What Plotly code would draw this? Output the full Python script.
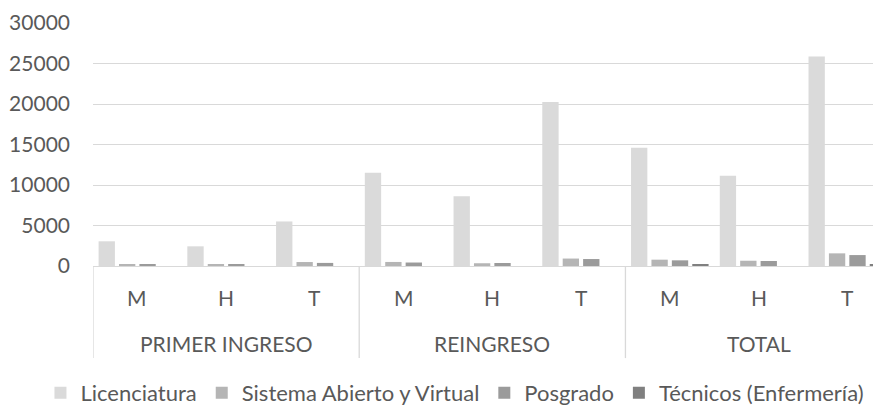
import plotly.graph_objects as go

# Datos (estimados)
grupos = ['PRIMER INGRESO', 'REINGRESO', 'TOTAL']
sexos = ['M', 'H', 'T']

licenciatura = [3050, 2430, 5500, 11500, 8600, 20250, 14600, 11150, 25850]
abierto_virtual = [220, 250, 490, 500, 340, 920, 780, 650, 1560]
posgrado = [210, 130, 380, 430, 370, 860, 700, 620, 1350]
tecnicos = [0, 0, 0, 0, 0, 0, 130, 0, 130]

series = [
    ('Licenciatura', licenciatura, '#dadada'),
    ('Sistema Abierto y Virtual', abierto_virtual, '#b5b5b5'),
    ('Posgrado', posgrado, '#9b9b9b'),
    ('Técnicos (Enfermería)', tecnicos, '#808080'),
]

fuente = 'Lato'
gris_texto = '#595959'
gris_linea = '#d9d9d9'
tam = 21

x_pos = list(range(len(grupos) * len(sexos)))

fig = go.Figure()
for nombre, valores, color in series:
    fig.add_trace(go.Bar(x=x_pos, y=valores, name=nombre, marker=dict(color=color, line=dict(width=0))))

# etiquetas del eje x (dos niveles) y separadores de grupos
anotaciones = []
for i, x in enumerate(x_pos):
    anotaciones.append(dict(x=x, y=0, xref='x', yref='paper', text=sexos[i % 3], showarrow=False,
                            yanchor='middle', yshift=-31, font=dict(size=tam, color=gris_texto, family=fuente)))
formas = []
for g, nombre in enumerate(grupos):
    anotaciones.append(dict(x=g * 3 + 1, y=0, xref='x', yref='paper', text=nombre, showarrow=False,
                            yanchor='middle', yshift=-77, font=dict(size=tam, color=gris_texto, family=fuente)))
    formas.append(dict(type='line', xref='x', yref='paper', x0=g * 3 - 0.5, x1=g * 3 - 0.5, y0=0, y1=-0.379,
                       line=dict(color=gris_linea, width=1.3)))

fig.update_layout(
    width=881, height=406,
    margin=dict(l=85, r=0, t=15, b=148),
    paper_bgcolor='white', plot_bgcolor='white',
    barmode='group', bargap=0.08, bargroupgap=0.2,
    font=dict(family=fuente, size=tam, color=gris_texto),
    xaxis=dict(range=[-0.5, 8.47], showticklabels=False, showgrid=False, zeroline=False,
               showline=True, linecolor=gris_linea, linewidth=1.3, ticks=''),
    yaxis=dict(range=[0, 30000], dtick=5000, tickformat='d', showgrid=True, gridcolor=gris_linea,
               gridwidth=1.3, zeroline=False, showline=False, ticks='', ticklabelstandoff=22,
               tickfont=dict(size=tam, color=gris_texto, family=fuente)),
    legend=dict(orientation='h', x=-0.066, xanchor='left', y=-0.525, yanchor='middle',
                font=dict(size=22, color=gris_texto, family=fuente), itemwidth=30),
    annotations=anotaciones,
    shapes=formas,
)

fig.write_html("out.html")
